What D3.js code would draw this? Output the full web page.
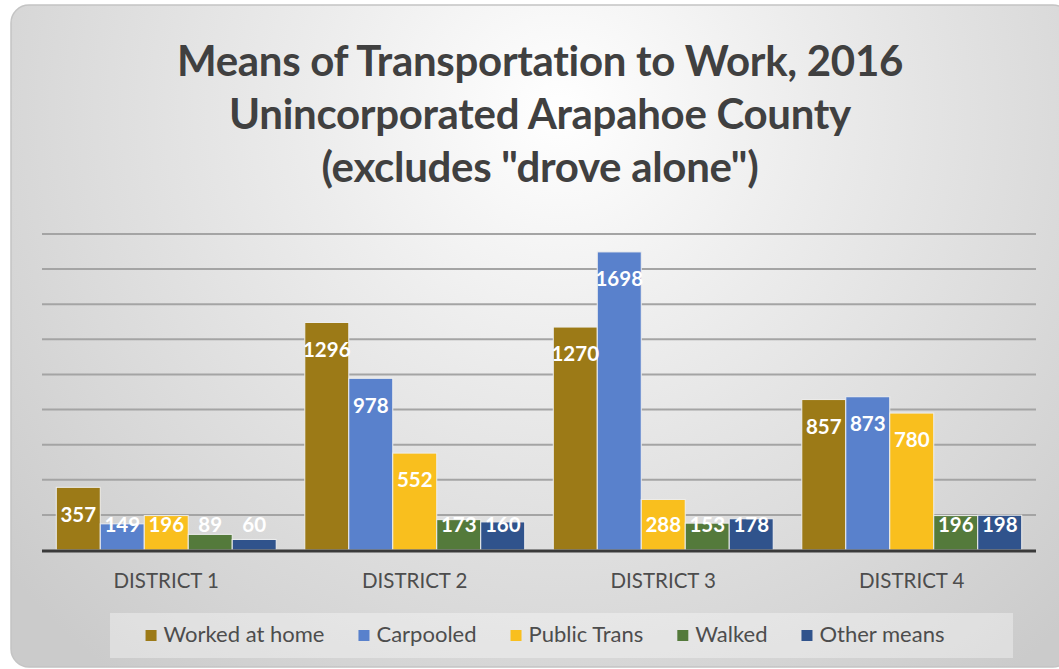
<!DOCTYPE html>
<html>
<head>
<meta charset="utf-8">
<script src="https://cdn.jsdelivr.net/npm/d3@7"></script>
<style>
  body { margin: 0; background: #ffffff; }
  svg { display: block; font-family: Lato, "Open Sans", sans-serif; }
</style>
</head>
<body>
<svg id="chart" width="1059" height="669"></svg>
<script>
// chart data
const districts = ["DISTRICT 1", "DISTRICT 2", "DISTRICT 3", "DISTRICT 4"];
const seriesNames = ["Worked at home", "Carpooled", "Public Trans", "Walked", "Other means"];
const workedAtHome = [357, 1296, 1270, 857];
const carpooled = [149, 978, 1698, 873];
const publicTrans = [196, 552, 288, 780];
const walked = [89, 173, 153, 196];
const otherMeans = [60, 160, 178, 198];
const yTicks = [0, 200, 400, 600, 800, 1000, 1200, 1400, 1600, 1800];
const titleLines = [
  "Means of Transportation to Work, 2016",
  "Unincorporated Arapahoe County",
  "(excludes \"drove alone\")"
];

const colorLUT = ["#9c7a17", "#5981cc", "#f9bf1e", "#547a3b", "#30538c"];

var seriesValues = [workedAtHome, carpooled, publicTrans, walked, otherMeans];

/**
 * Draws the card background with its grey radial gradient.
 */
function drawBackground(svg) {
  var defs = svg.append("defs");
  var grad = defs.append("radialGradient")
    .attr("id", "bg")
    .attr("gradientUnits", "userSpaceOnUse")
    .attr("cx", 560).attr("cy", 110).attr("r", 720);
  grad.append("stop").attr("offset", "0%").attr("stop-color", "#ffffff");
  grad.append("stop").attr("offset", "35%").attr("stop-color", "#ececec");
  grad.append("stop").attr("offset", "100%").attr("stop-color", "#cbcbcb");

  svg.append("rect")
    .attr("x", 11).attr("y", 5)
    .attr("width", 1060).attr("height", 662)
    .attr("rx", 18)
    .attr("fill", "url(#bg)")
    .attr("stroke", "#c4c4c4")
    .attr("stroke-width", 1.5);
}

/**
 * Draws the three title lines.
 */
function drawTitle(svg) {
  svg.selectAll(".title")
    .data(titleLines)
    .enter().append("text")
    .attr("class", "title")
    .attr("x", 540)
    .attr("y", function(d, i) { return 76 + i * 53; })
    .style("text-anchor", "middle")
    .style("font-size", "42px")
    .style("font-weight", "bold")
    .style("letter-spacing", "-0.3px")
    .attr("fill", "#404040")
    .text(function(d) { return d; });
}

function drawBars(svg) {
  var left = 42, right = 1036, top = 234, bottom = 550;

  var x0 = d3.scaleBand()
    .domain(districts)
    .range([left, right])
    .paddingInner(0.115)
    .paddingOuter(0.0575);

  var x1 = d3.scaleBand()
    .domain(seriesNames)
    .range([0, x0.bandwidth()]);

  var yScale = d3.scaleLinear()
    .domain([0, d3.max(yTicks)])
    .range([bottom, top]);

  // gridlines
  svg.append("g")
    .selectAll("line")
    .data(yTicks.slice(1))
    .enter().append("line")
    .attr("x1", left).attr("x2", right)
    .attr("y1", function(d) { return yScale(d); })
    .attr("y2", function(d) { return yScale(d); })
    .attr("stroke", "#a4a4a4")
    .attr("stroke-width", 2);

  var rows = [];
  districts.forEach(function(dist, i) {
    seriesNames.forEach(function(s, j) {
      rows.push({ district: dist, series: s, idx: j, value: seriesValues[j][i] });
    });
  });

  svg.append("g")
    .selectAll(".bar")
    .data(rows)
    .enter().append("rect")
    .attr("class", "bar")
    .attr("x", function(d) { return x0(d.district) + x1(d.series); })
    .attr("y", function(d) { return yScale(d.value); })
    .attr("width", x1.bandwidth())
    .attr("height", function(d) { return yScale(0) - yScale(d.value); })
    .attr("fill", function(d) { return colorLUT[d.idx]; })
    .attr("stroke", "#eeeeee")
    .attr("stroke-width", 1);

  // x axis line
  svg.append("line")
    .attr("x1", left).attr("x2", right)
    .attr("y1", bottom + 1).attr("y2", bottom + 1)
    .attr("stroke", "#3a3a3a")
    .attr("stroke-width", 3);

  // data labels, inside end, kept above the axis for short bars
  svg.append("g")
    .selectAll(".label")
    .data(rows)
    .enter().append("text")
    .attr("class", "label")
    .attr("x", function(d) { return x0(d.district) + x1(d.series) + x1.bandwidth() / 2; })
    .attr("y", function(d) { return Math.min(yScale(d.value) + 27, bottom - 25); })
    .attr("dy", "0.36em")
    .style("text-anchor", "middle")
    .style("font-size", "20.5px")
    .style("font-weight", "bold")
    .attr("fill", "#ffffff")
    .text(function(d) { return d.value; });

  // category labels
  svg.append("g")
    .selectAll(".cat")
    .data(districts)
    .enter().append("text")
    .attr("class", "cat")
    .attr("x", function(d) { return x0(d) + x0.bandwidth() / 2; })
    .attr("y", 588)
    .style("text-anchor", "middle")
    .style("font-size", "20.5px")
    .attr("fill", "#4d4d4d")
    .text(function(d) { return d; });
}

function drawLegend(svg) {
  svg.append("rect")
    .attr("x", 110).attr("y", 613)
    .attr("width", 903).attr("height", 45)
    .attr("fill", "#ffffff")
    .attr("fill-opacity", 0.35);

  var g = svg.append("g");
  var items = g.selectAll(".legend-item")
    .data(seriesNames)
    .enter().append("g")
    .attr("class", "legend-item");

  items.append("rect")
    .attr("width", 11).attr("height", 11)
    .attr("y", 630)
    .attr("fill", function(d, i) { return colorLUT[i]; });

  items.append("text")
    .attr("x", 18)
    .attr("y", 642)
    .style("font-size", "22px")
    .attr("fill", "#4d4d4d")
    .text(function(d) { return d; });

  // lay the items out in a row centred under the plot
  var gap = 34;
  var widths = [];
  items.each(function() { widths.push(18 + d3.select(this).select("text").node().getComputedTextLength()); });
  var total = d3.sum(widths) + gap * (widths.length - 1);
  var cx = 545 - total / 2;
  items.attr("transform", function(d, i) {
    var tx = cx;
    cx += widths[i] + gap;
    return "translate(" + tx + ",0)";
  });
}

var svg = d3.select("#chart");
drawBackground(svg);
drawTitle(svg);
drawBars(svg);
drawLegend(svg);
</script>
</body>
</html>
